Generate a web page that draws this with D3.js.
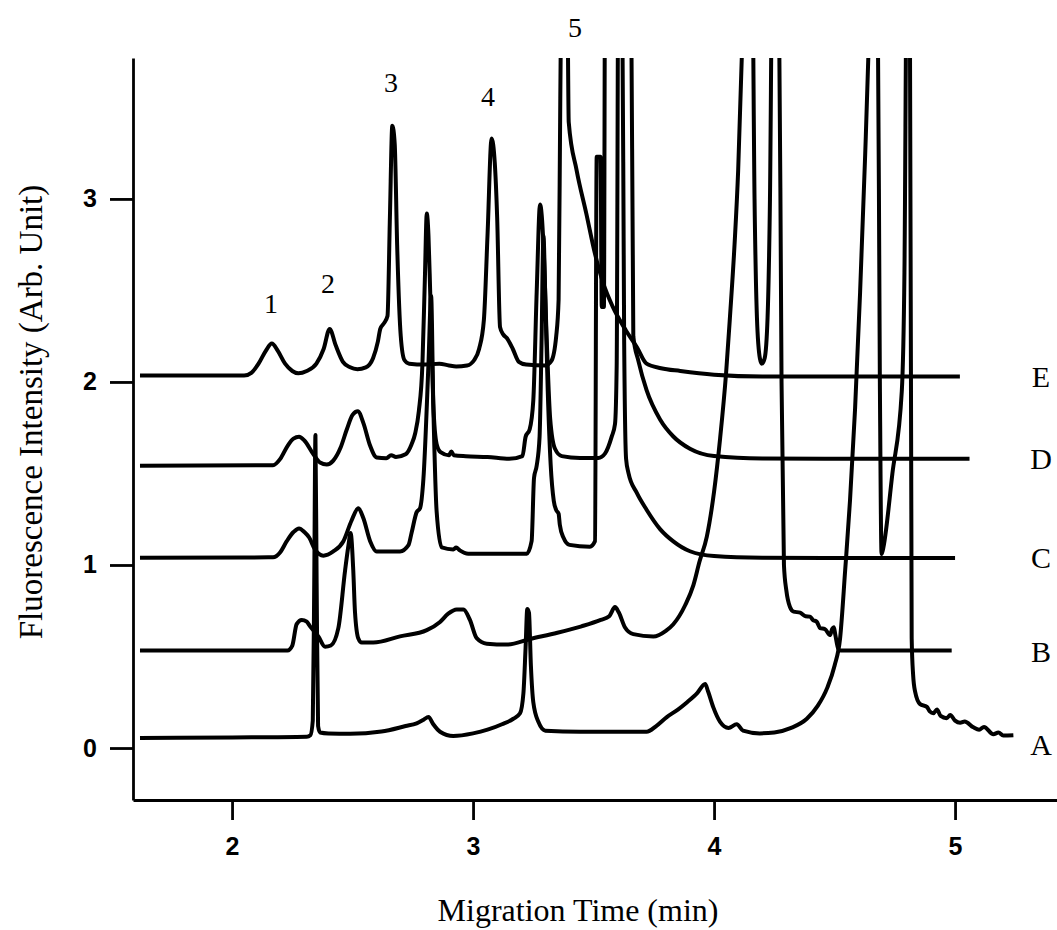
<!DOCTYPE html>
<html>
<head>
<meta charset="utf-8">
<script src="https://cdn.jsdelivr.net/npm/d3@7"></script>
<style>
  body { margin: 0; background: #fff; }
  svg { display: block; }
</style>
</head>
<body>
<div id="chart"></div>
<script>
// electropherogram traces, [migration time (min), fluorescence intensity]
var traceA = [
  [1.618, 0.055], [2.0, 0.058], [2.31, 0.062], [2.325, 0.07], [2.335, 0.15], [2.341, 0.9], [2.346, 1.71],
  [2.351, 0.9], [2.357, 0.12], [2.365, 0.085], [2.40, 0.08], [2.49, 0.078], [2.62, 0.09], [2.72, 0.12],
  [2.766, 0.135], [2.795, 0.155], [2.815, 0.17], [2.835, 0.13], [2.863, 0.089], [2.918, 0.066], [3.00, 0.08],
  [3.06, 0.10], [3.12, 0.13], [3.167, 0.16], [3.195, 0.19], [3.209, 0.30], [3.218, 0.55], [3.225, 0.76],
  [3.232, 0.74], [3.24, 0.45], [3.25, 0.25], [3.271, 0.143], [3.30, 0.095], [3.444, 0.089], [3.72, 0.089],
  [3.76, 0.12], [3.804, 0.169], [3.85, 0.21], [3.887, 0.249], [3.93, 0.30], [3.963, 0.35], [3.975, 0.31],
  [3.997, 0.222], [4.025, 0.143], [4.06, 0.11], [4.094, 0.13], [4.12, 0.095], [4.19, 0.08], [4.25, 0.085],
  [4.32, 0.11], [4.385, 0.16], [4.43, 0.23], [4.47, 0.33], [4.50, 0.45], [4.523, 0.60], [4.544, 0.97],
  [4.564, 1.35], [4.585, 1.85], [4.606, 2.49], [4.627, 3.24], [4.64, 3.77], [4.65, 4.3], [4.678, 4.3],
  [4.688, 2.0], [4.695, 1.06], [4.70, 1.08], [4.74, 1.50], [4.779, 1.95], [4.79, 2.6], [4.80, 4.3],
  [4.812, 4.3], [4.82, 0.6], [4.826, 0.4], [4.834, 0.31], [4.855, 0.24], [4.883, 0.225], [4.895, 0.20],
  [4.91, 0.19], [4.925, 0.21], [4.94, 0.175], [4.965, 0.163], [4.98, 0.18], [5.0, 0.15], [5.021, 0.138],
  [5.04, 0.145], [5.076, 0.113], [5.10, 0.10], [5.12, 0.115], [5.159, 0.075], [5.18, 0.085], [5.20, 0.068],
  [5.242, 0.07]
];

var traceB = [
  [1.618, 0.533], [2.23, 0.533], [2.25, 0.56], [2.268, 0.677], [2.289, 0.70], [2.31, 0.69], [2.323, 0.666],
  [2.358, 0.61], [2.386, 0.553], [2.41, 0.56], [2.441, 0.655], [2.469, 0.97], [2.483, 1.107], [2.492, 1.175],
  [2.503, 0.97], [2.51, 0.745], [2.524, 0.598], [2.538, 0.576], [2.586, 0.576], [2.697, 0.61], [2.808, 0.644],
  [2.863, 0.689], [2.897, 0.734], [2.932, 0.757], [2.96, 0.757], [2.987, 0.70], [3.015, 0.60], [3.057, 0.57],
  [3.14, 0.565], [3.236, 0.596], [3.35, 0.63], [3.45, 0.665], [3.53, 0.70], [3.565, 0.72], [3.589, 0.77],
  [3.605, 0.74], [3.63, 0.66], [3.665, 0.622], [3.748, 0.609], [3.80, 0.64], [3.831, 0.676], [3.88, 0.78],
  [3.914, 0.889], [3.94, 1.02], [3.97, 1.155], [4.0, 1.40], [4.025, 1.69], [4.05, 2.05], [4.066, 2.355],
  [4.085, 2.75], [4.10, 3.155], [4.115, 3.77], [4.125, 4.3], [4.158, 4.3], [4.168, 3.0], [4.178, 2.35],
  [4.19, 2.13], [4.198, 2.10], [4.21, 2.13], [4.222, 2.35], [4.232, 3.0], [4.242, 4.3], [4.268, 4.3],
  [4.28, 2.0], [4.29, 1.0], [4.30, 0.86], [4.315, 0.77], [4.33, 0.745], [4.357, 0.74], [4.38, 0.72],
  [4.398, 0.718], [4.41, 0.70], [4.426, 0.69], [4.44, 0.655], [4.46, 0.65], [4.481, 0.617], [4.49, 0.65],
  [4.497, 0.66], [4.503, 0.62], [4.516, 0.54], [4.525, 0.533], [4.7, 0.533], [4.986, 0.533]
];

var traceC = [
  [1.618, 1.04], [2.17, 1.042], [2.20, 1.07], [2.227, 1.13], [2.255, 1.18], [2.278, 1.20], [2.30, 1.18],
  [2.32, 1.15], [2.344, 1.085], [2.379, 1.051], [2.42, 1.074], [2.462, 1.13], [2.496, 1.243], [2.524, 1.31],
  [2.545, 1.255], [2.573, 1.13], [2.60, 1.074], [2.697, 1.074], [2.732, 1.108], [2.745, 1.176], [2.766, 1.289],
  [2.78, 1.31], [2.794, 1.47], [2.815, 2.10], [2.826, 2.47], [2.835, 1.88], [2.849, 1.29], [2.87, 1.096],
  [2.918, 1.085], [2.93, 1.095], [2.945, 1.08], [2.98, 1.062], [3.10, 1.062], [3.223, 1.062], [3.243, 1.13],
  [3.253, 1.476], [3.264, 1.542], [3.276, 1.70], [3.284, 2.2], [3.292, 2.80], [3.300, 2.45], [3.31, 1.95],
  [3.322, 1.55], [3.335, 1.35], [3.345, 1.30], [3.355, 1.28], [3.36, 1.22], [3.375, 1.15], [3.40, 1.11],
  [3.485, 1.10], [3.506, 1.13], [3.513, 3.23], [3.529, 3.23], [3.534, 2.41], [3.543, 2.41], [3.548, 4.3],
  [3.618, 4.3], [3.627, 2.22], [3.635, 1.58], [3.645, 1.502], [3.679, 1.395], [3.72, 1.302], [3.776, 1.196],
  [3.831, 1.129], [3.90, 1.075], [4.0, 1.049], [4.2, 1.04], [4.6, 1.038], [5.0, 1.038]
];

var traceD = [
  [1.618, 1.542], [2.17, 1.545], [2.20, 1.58], [2.23, 1.65], [2.255, 1.69], [2.278, 1.70], [2.30, 1.68],
  [2.337, 1.606], [2.365, 1.56], [2.393, 1.549], [2.42, 1.57], [2.45, 1.64], [2.476, 1.74], [2.50, 1.82],
  [2.522, 1.84], [2.545, 1.775], [2.573, 1.651], [2.60, 1.587], [2.64, 1.583], [2.66, 1.60], [2.68, 1.59],
  [2.72, 1.605], [2.745, 1.66], [2.76, 1.72], [2.775, 1.84], [2.79, 2.10], [2.80, 2.56], [2.808, 2.92],
  [2.815, 2.80], [2.822, 2.5], [2.835, 1.88], [2.849, 1.66], [2.865, 1.617], [2.90, 1.60], [2.91, 1.62],
  [2.92, 1.60], [2.97, 1.594], [3.06, 1.59], [3.15, 1.58], [3.205, 1.595], [3.218, 1.70], [3.235, 1.742],
  [3.25, 1.90], [3.264, 2.49], [3.278, 2.97], [3.292, 2.755], [3.306, 2.22], [3.32, 1.80], [3.34, 1.635],
  [3.368, 1.595], [3.444, 1.585], [3.52, 1.585], [3.548, 1.61], [3.575, 1.70], [3.589, 1.77], [3.596, 2.09],
  [3.603, 4.3], [3.655, 4.3], [3.665, 2.25], [3.686, 2.115], [3.72, 1.955], [3.776, 1.795], [3.831, 1.702],
  [3.90, 1.635], [4.0, 1.595], [4.2, 1.582], [4.6, 1.58], [5.06, 1.58]
];

var traceE = [
  [1.618, 2.035], [2.05, 2.035], [2.08, 2.05], [2.11, 2.10], [2.14, 2.17], [2.165, 2.21], [2.19, 2.17],
  [2.22, 2.10], [2.25, 2.06], [2.275, 2.047], [2.31, 2.06], [2.35, 2.10], [2.38, 2.18], [2.405, 2.29],
  [2.43, 2.20], [2.46, 2.11], [2.49, 2.08], [2.52, 2.07], [2.555, 2.08], [2.585, 2.13], [2.605, 2.22],
  [2.615, 2.29], [2.63, 2.32], [2.645, 2.36], [2.655, 2.9], [2.665, 3.40], [2.675, 3.3], [2.685, 2.75],
  [2.70, 2.25], [2.715, 2.12], [2.735, 2.10], [2.80, 2.095], [2.86, 2.10], [2.90, 2.09], [2.93, 2.085],
  [2.975, 2.09], [3.005, 2.12], [3.025, 2.18], [3.045, 2.34], [3.06, 2.8], [3.077, 3.33], [3.09, 3.2],
  [3.10, 2.90], [3.112, 2.30], [3.125, 2.26], [3.14, 2.24], [3.165, 2.18], [3.19, 2.11], [3.22, 2.095],
  [3.30, 2.09], [3.325, 2.115], [3.345, 2.25], [3.355, 2.45], [3.362, 3.55], [3.368, 4.3], [3.39, 4.3],
  [3.397, 3.42], [3.43, 3.155], [3.47, 2.92], [3.506, 2.70], [3.54, 2.54], [3.58, 2.41], [3.635, 2.28],
  [3.68, 2.19], [3.72, 2.10], [3.78, 2.075], [3.86, 2.06], [4.0, 2.04], [4.2, 2.03], [4.6, 2.03], [5.02, 2.03]
];

var traceNames = ['A', 'B', 'C', 'D', 'E'];
var traceLabelLevels = [0.02, 0.53, 1.04, 1.58, 2.03];

var peakNames = ['1', '2', '3', '4', '5'];
var peakTimes = [2.162, 2.398, 2.66, 3.062, 3.423];
var peakLabelLevels = [2.43, 2.54, 3.64, 3.56, 3.94];

var xTicks = [2, 3, 4, 5];
var yTicks = [0, 1, 2, 3];

var width = 1057,
  height = 930;

var margin = { top: 58, right: 0, bottom: 130, left: 133 };

var svg = d3.select('#chart')
  .append('svg')
  .attr('width', width)
  .attr('height', height);

var x = d3.scaleLinear()
  .domain([1.589, 5.423])
  .range([margin.left, width - margin.right]);

var y = d3.scaleLinear()
  .domain([-0.284, 3.77])
  .range([height - margin.bottom, margin.top]);

var serif = "'Liberation Serif', 'Times New Roman', serif";
var sans = "'Liberation Sans', Arial, sans-serif";

// clip so the saturated peaks are cut at the top of the frame
svg.append('clipPath')
  .attr('id', 'plot-clip')
  .append('rect')
  .attr('x', margin.left)
  .attr('y', margin.top)
  .attr('width', width - margin.left - margin.right)
  .attr('height', height - margin.top - margin.bottom);

var line = d3.line()
  .x(function(d) { return x(d[0]); })
  .y(function(d) { return y(d[1]); })
  .curve(d3.curveMonotoneX);

var traces = [traceA, traceB, traceC, traceD, traceE];

svg.append('g')
  .attr('clip-path', 'url(#plot-clip)')
  .selectAll('path')
  .data(traces)
  .enter()
  .append('path')
  .attr('d', line)
  .attr('fill', 'none')
  .attr('stroke', '#000')
  .attr('stroke-width', 4)
  .attr('stroke-linejoin', 'round');

// axes
var xAxis = svg.append('g')
  .attr('transform', 'translate(0,' + (height - margin.bottom) + ')')
  .call(d3.axisBottom(x)
    .tickValues(xTicks)
    .tickFormat(d3.format('d'))
    .tickSize(20)
    .tickSizeOuter(0)
    .tickPadding(17));

var yAxis = svg.append('g')
  .attr('transform', 'translate(' + margin.left + ',0)')
  .call(d3.axisLeft(y)
    .tickValues(yTicks)
    .tickFormat(d3.format('d'))
    .tickSize(23)
    .tickSizeOuter(0)
    .tickPadding(13));

[xAxis, yAxis].forEach(function(g) {
  g.select('.domain').attr('stroke', '#000').attr('stroke-width', 2.8);
  g.selectAll('.tick line').attr('stroke', '#000').attr('stroke-width', 2.8);
  g.selectAll('.tick text')
    .attr('fill', '#000')
    .style('font-family', sans)
    .style('font-weight', 'bold')
    .style('font-size', '25px');
});

// trace labels on the right
svg.selectAll('.trace-label')
  .data(traceNames)
  .enter()
  .append('text')
  .attr('class', 'trace-label')
  .attr('x', width - 16)
  .attr('y', function(d, i) { return y(traceLabelLevels[i]); })
  .attr('dy', '0.35em')
  .attr('text-anchor', 'middle')
  .style('font-family', serif)
  .style('font-size', '30px')
  .text(function(d) { return d; });

// peak numbers
svg.selectAll('.peak-label')
  .data(peakNames)
  .enter()
  .append('text')
  .attr('class', 'peak-label')
  .attr('x', function(d, i) { return x(peakTimes[i]); })
  .attr('y', function(d, i) { return y(peakLabelLevels[i]); })
  .attr('dy', '0.35em')
  .attr('text-anchor', 'middle')
  .style('font-family', serif)
  .style('font-size', '28px')
  .text(function(d) { return d; });

// axis titles
svg.append('text')
  .attr('x', 578)
  .attr('y', 921)
  .attr('text-anchor', 'middle')
  .style('font-family', serif)
  .style('font-size', '32px')
  .text('Migration Time (min)');

svg.append('text')
  .attr('transform', 'translate(42,412) rotate(-90)')
  .attr('text-anchor', 'middle')
  .style('font-family', serif)
  .style('font-size', '33px')
  .text('Fluorescence Intensity (Arb. Unit)');
</script>
</body>
</html>
